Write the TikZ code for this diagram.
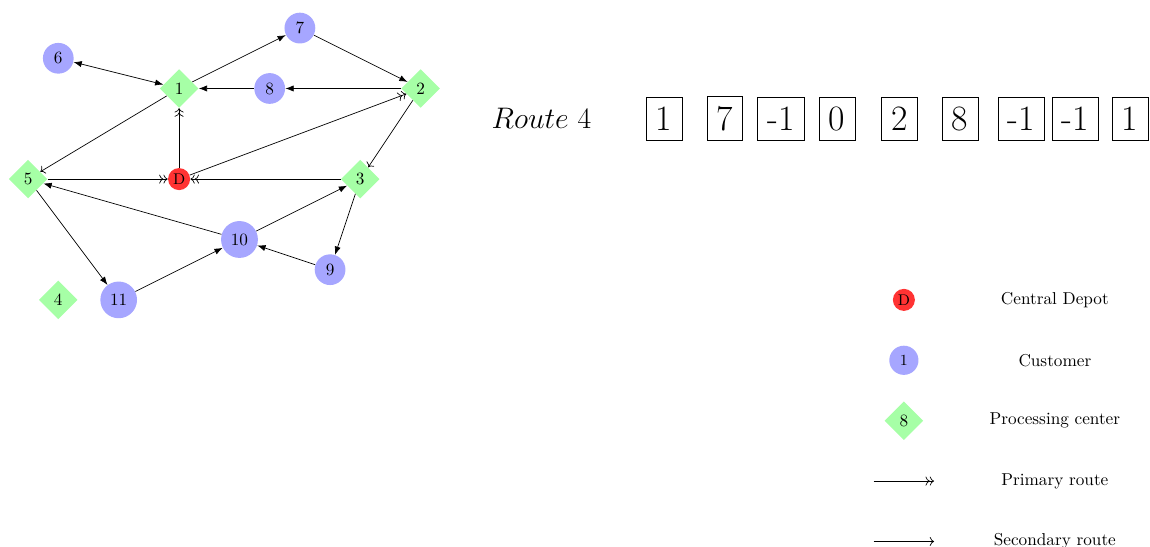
\documentclass[tikz,border=0pt]{standalone}
\usepackage{tikz}
\usetikzlibrary{arrows.meta, shapes.geometric}

\begin{document}
\begin{tikzpicture}[x=0.617cm,y=0.617cm,
    depot/.style={circle,fill=red!80,inner sep=1pt,minimum size=12.8pt,font=\small},
    customer/.style={circle,fill=blue!35,inner sep=3.33pt},
    proc/.style={diamond,fill=green!35,inner sep=1pt,minimum size=22.5pt},
    primary/.style={->>},
    secondary/.style={->},
    link/.style={-{Latex}},
    cell/.style={draw,font=\huge,inner sep=5.6pt}]
    \useasboundingbox (-5.93,-12.18) rectangle (32.15,5.93);

    \node[depot] (D) at (0,0) {D};
    \node[proc] (n1) at (0,3) {1};
    \node[proc] (n2) at (8,3) {2};
    \node[proc] (n3) at (6,0) {3};
    \node[proc] (n4) at (-4,-4) {4};
    \node[proc] (n5) at (-5,0) {5};
    \node[customer] (n6) at (-4,4) {6};
    \node[customer] (n7) at (4,5) {7};
    \node[customer] (n8) at (3,3) {8};
    \node[customer] (n9) at (5,-3) {9};
    \node[customer] (n10) at (2,-2) {10};
    \node[customer] (n11) at (-2,-4) {11};

    \draw[primary] (n5) -- (D);
    \draw[primary] (n3) -- (D);
    \draw[primary] (D) -- (n1);
    \draw[primary] (D) -- (n2);
    \draw[secondary] (n1) -- (n5);
    \draw[secondary] (n2) -- (n3);
    \draw[{Latex}-{Latex}] (n6) -- (n1);
    \draw[link] (n1) -- (n7);
    \draw[link] (n7) -- (n2);
    \draw[link] (n2) -- (n8);
    \draw[link] (n8) -- (n1);
    \draw[link] (n10) -- (n5);
    \draw[link] (n10) -- (n3);
    \draw[link] (n3) -- (n9);
    \draw[link] (n9) -- (n10);
    \draw[link] (n5) -- (n11);
    \draw[link] (n11) -- (n10);

    \node[font=\LARGE] (route) at (12.0,2) {$Route\ 4$};
    \node[cell] (c1) at (16.06,2) {1};
    \node[cell] (c2) at (18.07,2) {7};
    \node[cell] (c3) at (19.93,2) {-1};
    \node[cell] (c4) at (21.79,2) {0};
    \node[cell] (c5) at (23.86,2) {2};
    \node[cell] (c6) at (25.86,2) {8};
    \node[cell] (c7) at (27.88,2) {-1};
    \node[cell] (c8) at (29.67,2) {-1};
    \node[cell] (c9) at (31.49,2) {1};

    \node[depot] (lD) at (24,-4) {D};
    \node (tD) at (29,-4) {Central Depot};
    \node[customer,font=\small] (lC) at (24,-6) {1};
    \node (tC) at (29,-6) {Customer};
    \node[proc] (lP) at (24,-8) {8};
    \node (tP) at (29,-8) {Processing center};
    \coordinate (pa) at (23,-10);
    \coordinate (pb) at (25,-10);
    \draw[primary] (pa) -- (pb);
    \node (tR) at (29,-10) {Primary route};
    \coordinate (sa) at (23,-12);
    \coordinate (sb) at (25,-12);
    \draw[secondary] (sa) -- (sb);
    \node (tS) at (29,-12) {Secondary route};
\end{tikzpicture}
\end{document}
